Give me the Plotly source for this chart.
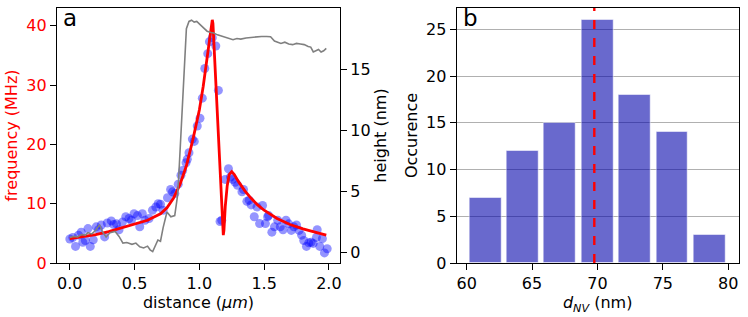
import plotly.graph_objects as go

# ---------------- data: panel a ----------------
dist_pts = [0.00,0.023,0.044,0.067,0.088,0.10,0.12,0.14,0.158,0.181,0.204,0.222,0.243,0.269,0.289,0.32,0.339,0.36,0.38,0.406,
            0.432,0.457,0.475,0.496,0.522,0.54,0.56,0.58,0.612,0.638,0.664,0.682,0.70,0.72,0.754,0.778,0.793,0.811,0.837,0.858,
            0.871,0.897,0.907,0.920,0.946,0.961,0.984,1.005,1.023,1.042,1.065,1.078,1.10,1.127,1.147,1.16,1.173,1.199,1.225,1.24,
            1.256,1.277,1.295,1.329,1.341,1.367,1.385,1.40,1.424,1.445,1.465,1.488,1.51,1.527,1.535,1.56,1.58,1.605,1.625,1.646,
            1.669,1.69,1.71,1.73,1.75,1.77,1.79,1.806,1.827,1.845,1.863,1.879,1.904,1.91,1.93,1.95,1.966,1.987]
freq_pts = [4.05,4.3,2.8,4.7,5.2,3.5,3.8,5.8,2.8,3.9,6.1,5.6,6.4,4.4,6.75,7.1,6.5,6.6,5.6,6.9,
            7.8,7.5,7.2,8.3,8.0,6.1,8.3,7.2,7.5,8.9,9.45,10.0,9.9,8.9,11.0,12.4,12.0,11.7,13.3,14.8,
            15.6,16.9,17.5,18.6,20.9,20.5,23.1,24.4,27.8,32.8,35.3,37.3,38.0,36.6,29.1,7.0,7.2,14.1,15.9,14.5,
            14.1,13.6,13.1,12.0,12.4,10.4,10.6,9.8,7.8,9.45,6.65,9.7,6.65,7.8,8.0,5.2,6.1,7.2,6.1,5.6,
            7.2,6.6,5.5,6.1,6.4,5.5,4.7,3.8,2.8,3.4,3.5,3.3,4.3,5.6,2.8,4.1,1.7,2.4]

fit_x = [0.0,0.1,0.2,0.3,0.4,0.5,0.6,0.7,0.75,0.8,0.85,0.9,0.95,1.0,1.03,1.06,1.08,1.095,1.10,1.105,
         1.12,1.14,1.16,1.17,1.18,1.185,1.19,1.20,1.215,1.23,1.25,1.27,1.30,1.35,1.40,1.45,1.50,1.60,1.70,1.80,1.90,1.98]
fit_y = [4.1,4.4,4.8,5.3,5.9,6.5,7.2,8.3,9.3,10.9,13.2,16.4,20.8,25.8,29.8,34.6,38.0,40.4,41.0,40.4,
         33.5,24.3,14.5,9.5,5.2,4.7,5.5,9.5,13.0,14.9,15.4,14.9,13.8,12.2,10.9,9.8,8.9,7.5,6.5,5.75,5.15,4.7]

height_x = [0.00,0.03,0.06,0.09,0.12,0.14,0.17,0.20,0.23,0.25,0.28,0.31,0.35,0.38,0.41,0.44,0.48,0.51,0.54,0.57,
            0.60,0.62,0.64,0.66,0.68,0.70,0.72,0.75,0.78,0.81,0.83,0.84,0.86,0.88,0.90,0.92,0.94,0.96,0.98,1.01,
            1.04,1.06,1.09,1.11,1.14,1.17,1.20,1.23,1.26,1.29,1.32,1.36,1.40,1.44,1.48,1.52,1.55,1.58,1.60,1.63,
            1.66,1.69,1.72,1.75,1.78,1.81,1.84,1.86,1.88,1.90,1.92,1.94,1.96,1.98]
height_nm = [1.2,1.3,1.25,1.45,1.4,1.6,1.5,1.8,2.25,1.7,1.25,1.6,1.7,1.3,0.75,0.8,0.65,0.75,0.45,0.35,
             0.5,0.2,0.05,0.6,1.0,0.9,2.0,3.3,2.9,3.0,4.5,6.0,10.0,15.0,18.3,18.9,19.0,18.85,18.9,18.6,
             18.3,18.1,18.0,17.95,17.8,17.7,17.6,17.5,17.4,17.5,17.45,17.55,17.6,17.6,17.67,17.67,17.65,17.3,17.2,17.1,
             17.2,17.05,17.0,17.1,17.05,17.0,16.85,16.8,16.4,16.5,16.6,16.4,16.5,16.7]

# ---------------- data: panel b ----------------
bin_edges = [60 + i * 20 / 7 for i in range(8)]
counts = [7, 12, 15, 26, 18, 14, 3]
d_mean = 69.76

x_ticks_a = [0.0, 0.5, 1.0, 1.5, 2.0]
x_ticklabels_a = ["0.0", "0.5", "1.0", "1.5", "2.0"]

FONT = "DejaVu Sans"
FS = 16
fig = go.Figure()

fig.add_trace(go.Scatter(x=dist_pts, y=freq_pts, mode="markers",
                         marker=dict(size=9, color="blue", opacity=0.42, line=dict(width=0)),
                         xaxis="x", yaxis="y", showlegend=False))
fig.add_trace(go.Scatter(x=fit_x, y=fit_y, mode="lines", line=dict(color="red", width=2.8),
                         xaxis="x", yaxis="y", showlegend=False))
fig.add_trace(go.Scatter(x=height_x, y=height_nm, mode="lines", line=dict(color="gray", width=1.6),
                         xaxis="x", yaxis="y2", showlegend=False))

centers = [(bin_edges[i] + bin_edges[i + 1]) / 2 for i in range(7)]
bw = (bin_edges[1] - bin_edges[0]) * 0.85
fig.add_trace(go.Bar(x=centers, y=counts, width=[bw] * 7,
                     marker=dict(color="rgba(0,0,170,0.59)", line=dict(color="rgba(255,255,255,0.5)", width=1)),
                     xaxis="x3", yaxis="y3", showlegend=False))

tick_common = dict(ticks="outside", ticklen=6, tickwidth=1.3, tickcolor="black", automargin=False,
                   showline=True, linecolor="black", linewidth=1.3, zeroline=False,
                   tickfont=dict(family=FONT, size=FS, color="black"))

fig.update_layout(
    width=748, height=317,
    margin=dict(l=0, r=0, t=0, b=0, autoexpand=False),
    paper_bgcolor="white", plot_bgcolor="white",
    font=dict(family=FONT, size=FS, color="black"),
    bargap=0,
    xaxis=dict(domain=[57/748, 340/748], range=[-0.099, 2.086], anchor="y",
               tickvals=x_ticks_a, ticktext=x_ticklabels_a, mirror=True, showgrid=False,
               title=dict(text="distance (<i>μm</i>)", standoff=2, font=dict(family=FONT, size=FS)),
               **tick_common),
    yaxis=dict(domain=[1 - 263/317, 1 - 8/317], range=[0, 43], anchor="x",
               tickvals=[0, 10, 20, 30, 40], showgrid=False,
               title=dict(text="frequency (MHz)", standoff=4, font=dict(family=FONT, size=FS, color="red")),
               **{**tick_common, "tickfont": dict(family=FONT, size=FS, color="red")}),
    yaxis2=dict(overlaying="y", side="right", anchor="x", range=[-0.88, 20.0],
                tickvals=[0, 5, 10, 15], showgrid=False,
                title=dict(text="height (nm)", standoff=4, font=dict(family=FONT, size=FS)),
                **tick_common),
    xaxis3=dict(domain=[456.7/748, 738.7/748], range=[59.24, 80.8], anchor="y3",
                tickvals=[60, 65, 70, 75, 80], mirror=True, showgrid=False,
                title=dict(text="<i>d</i><sub><i>NV</i></sub> (nm)", standoff=2, font=dict(family=FONT, size=FS)),
                **tick_common),
    yaxis3=dict(domain=[1 - 263/317, 1 - 8/317], range=[0, 27.3], anchor="x3",
                tickvals=[0, 5, 10, 15, 20, 25], mirror=True, showgrid=True, gridcolor="#b0b0b0", gridwidth=1,
                title=dict(text="Occurence", standoff=4, font=dict(family=FONT, size=FS)),
                **tick_common),
)

fig.add_shape(type="line", xref="x3", yref="y3 domain", x0=d_mean, x1=d_mean, y0=0, y1=1,
              line=dict(color="red", width=2.4, dash="dash"))

fig.add_annotation(text="a", xref="x domain", yref="y domain", x=0.015, y=1.02, xanchor="left", yanchor="top",
                   showarrow=False, font=dict(family=FONT, size=23, color="black"))
fig.add_annotation(text="b", xref="x3 domain", yref="y3 domain", x=0.015, y=1.02, xanchor="left", yanchor="top",
                   showarrow=False, font=dict(family=FONT, size=23, color="black"))

fig.write_html("out.html", config={"displayModeBar": False},
               post_script="document.body.style.margin='0';document.body.style.overflow='hidden';")
